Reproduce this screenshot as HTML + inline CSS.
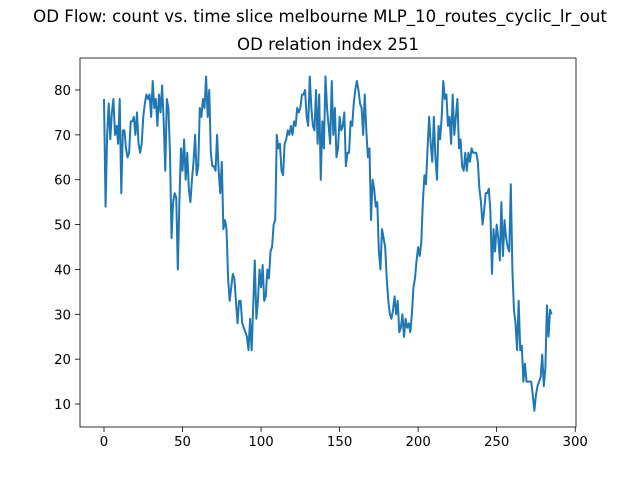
<!DOCTYPE html>
<html><head><meta charset="utf-8"><style>body{margin:0;background:#fff}svg{display:block;font-family:"DejaVu Sans","Liberation Sans",sans-serif}</style></head>
<body>
<svg id="chart" width="640" height="480">
<text x="320" y="22" text-anchor="middle" font-size="16.6">OD Flow: count vs. time slice melbourne MLP_10_routes_cyclic_lr_out</text>
<text x="328" y="50" text-anchor="middle" font-size="16.6">OD relation index 251</text>
<g id="plot"></g>
<rect x="80" y="58" width="496" height="369" fill="none" stroke="#000" stroke-width="0.8"/>
</svg>
<script>
const values = [78,54,70,77,69,75,78,70,72,68,
78,57,71,71,67,65,66,73,73,74,
70,75,68,66,68,74,77,79,78,79,
74,82,76,78,72,79,75,81,73,62,
78,76,66,47,55,57,56,40,55,67,
62,69,60,66,58,55,60,64,70,61,
63,76,74,78,76,83,74,80,66,63,
63,62,70,62,57,64,49,51,49,38,
33,36,39,38,33,28,33,33,28,27,
26,25,22,29,22,32,42,29,33,40,
36,41,33,34,40,38,44,45,50,51,
70,67,68,62,61,68,69,71,70,72,
70,73,72,76,75,76,79,79,80,74,
72,83,76,72,71,80,68,79,60,73,
67,83,76,72,68,82,70,76,65,67,
74,71,72,75,63,66,66,73,72,77,
80,82,80,77,76,70,79,71,65,67,
51,60,58,54,55,44,40,49,47,45,
38,33,30,29,31,34,30,33,26,27,
30,25,29,27,28,26,30,36,38,42,
45,43,46,55,61,59,67,74,68,64,
74,65,60,72,69,74,82,78,79,72,
74,68,79,70,74,78,67,69,63,62,
66,62,66,64,67,66,66,66,64,58,
55,50,53,57,57,58,53,39,49,44,
50,47,42,55,43,51,47,45,44,59,
40,31,28,22,33,22,23,15,19,15,
15,15,15,12,8.5,12,14,15,16,21,
14,18,32,25,31,30];
const xTicks = [0,50,100,150,200,250,300];
const yTicks = [10,20,30,40,50,60,70,80];
const NS='http://www.w3.org/2000/svg';
const X = v => 104 + v*1.5707;
const Y = v => 90 + (80-v)*4.486;
const g = document.getElementById('plot');
function mk(t,a){const e=document.createElementNS(NS,t);for(const k in a)e.setAttribute(k,a[k]);g.appendChild(e);return e;}
xTicks.forEach(t=>{
  const l=mk('line',{x1:X(t),x2:X(t),y1:427,y2:432,stroke:'#000','stroke-width':0.8});
  
  
  const s=mk('text',{x:X(t),y:446,'text-anchor':'middle','font-size':13.3});
  s.textContent=t;
  
  
});
yTicks.forEach(t=>{
  const l=mk('line',{x1:75,x2:80,y1:Y(t),y2:Y(t),stroke:'#000','stroke-width':0.8});
  
  
  const s=mk('text',{x:71,y:Y(t)+5,'text-anchor':'end','font-size':13.3});
  s.textContent=t;
  
  
});
const p=mk('polyline',{points:values.map((v,i)=>X(i).toFixed(2)+','+Y(v).toFixed(2)).join(' '),fill:'none',stroke:'#1f77b4','stroke-width':2,'stroke-linejoin':'round'});


</script>
</body></html>
